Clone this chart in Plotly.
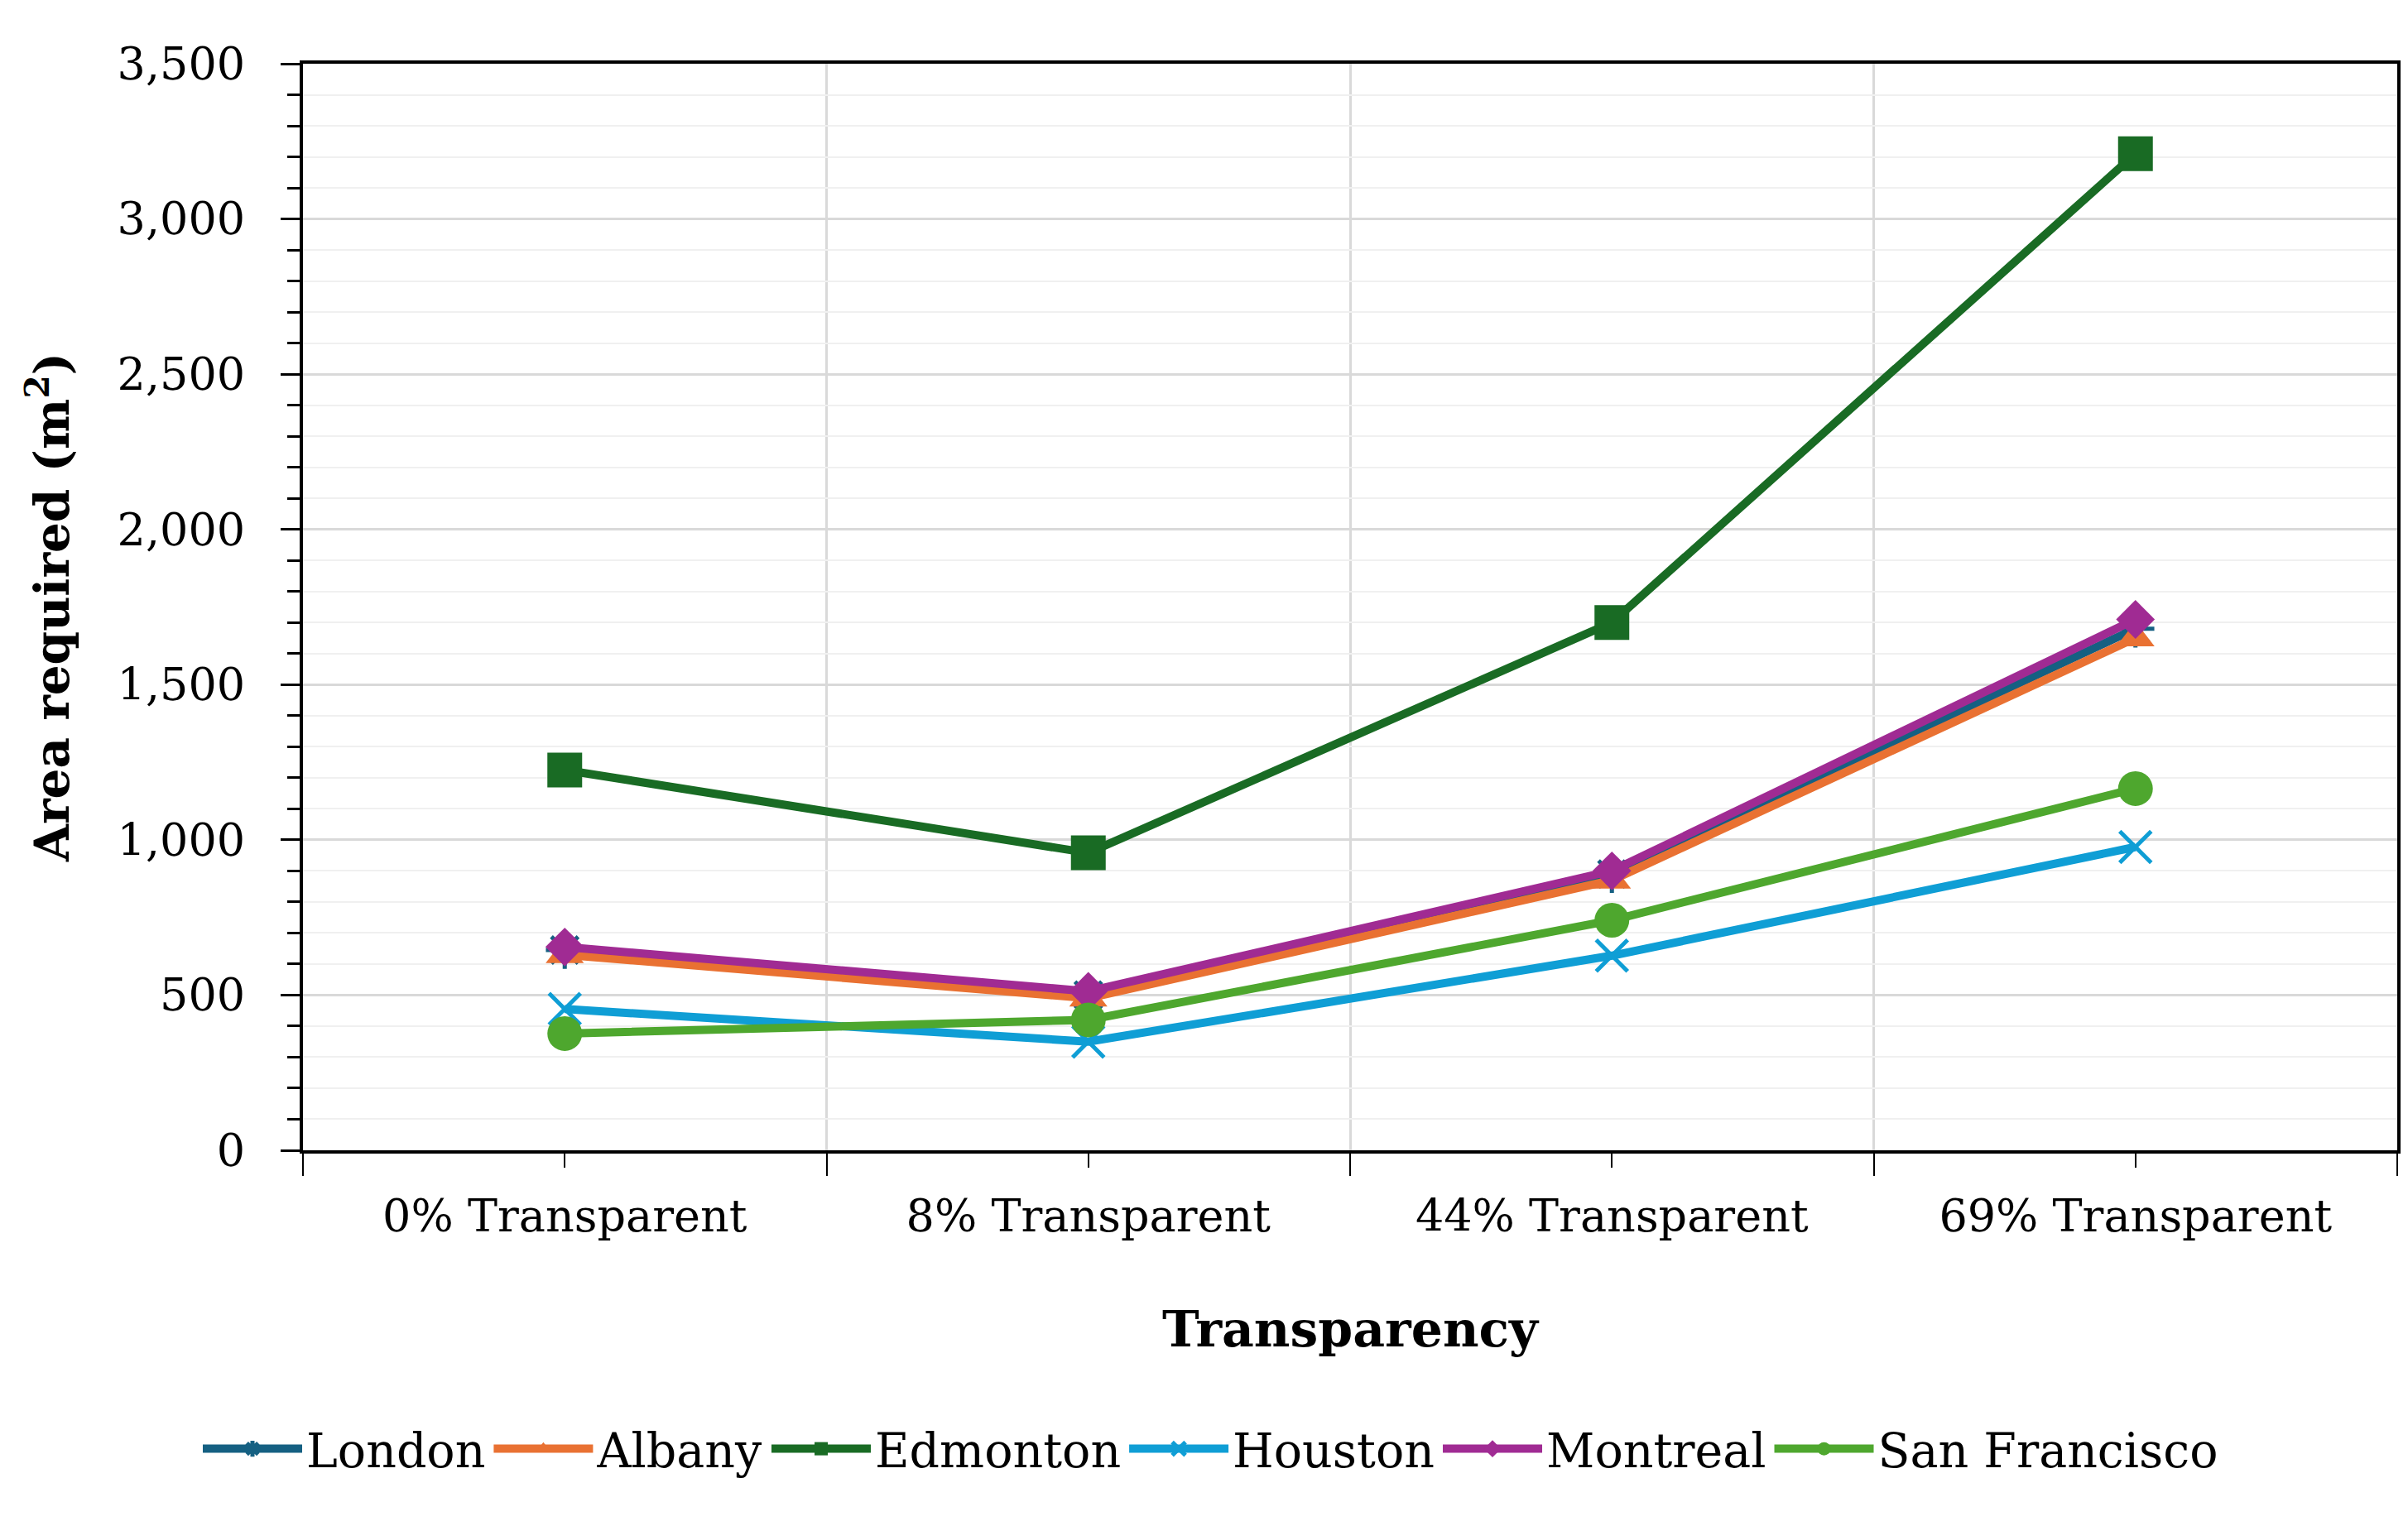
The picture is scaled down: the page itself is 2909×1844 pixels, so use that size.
import plotly.graph_objects as go

categories = ["0% Transparent", "8% Transparent", "44% Transparent", "69% Transparent"]
london = [645, 500, 890, 1680]
albany = [630, 490, 870, 1650]
edmonton = [1225, 958, 1700, 3210]
houston = [455, 350, 627, 977]
montreal = [655, 512, 900, 1710]
san_francisco = [376, 420, 741, 1165]

y_ticks = [0, 500, 1000, 1500, 2000, 2500, 3000, 3500]
y_ticktext = ["0", "500", "1,000", "1,500", "2,000", "2,500", "3,000", "3,500"]

series = [
    ("London", london, "#156082", "asterisk-open", 38),
    ("Albany", albany, "#E97132", "triangle-up", 40),
    ("Edmonton", edmonton, "#196B24", "square", 42),
    ("Houston", houston, "#0F9ED5", "x-thin-open", 38),
    ("Montreal", montreal, "#A02B93", "diamond", 36),
    ("San Francisco", san_francisco, "#4EA72E", "circle", 42),
]

FONT = "DejaVu Serif"
xpos = list(range(len(categories)))

fig = go.Figure()
for name, vals, color, sym, sz in series:
    fig.add_trace(go.Scatter(
        x=xpos, y=vals, name=name, mode="lines+markers",
        line=dict(color=color, width=10),
        marker=dict(symbol=sym, size=sz, color=color,
                    line=dict(color=color, width=5 if "open" in sym else 0)),
    ))

fig.update_layout(
    width=2909, height=1844,
    margin=dict(l=358, r=21, t=69, b=462, autoexpand=False),
    paper_bgcolor="white", plot_bgcolor="white",
    font=dict(family=FONT, size=54, color="black"),
    showlegend=True,
    legend=dict(orientation="h", x=0.4334, xanchor="center",
                y=-0.275, yanchor="middle",
                font=dict(family=FONT, size=57), itemwidth=120, tracegroupgap=0,
                itemsizing="trace"),
    xaxis=dict(
        range=[-0.5, 3.5], tickmode="array", tickvals=xpos, ticktext=categories,
        ticks="outside", ticklen=17, tickwidth=2, tickcolor="black",
        showgrid=False, zeroline=False, tickangle=0,
        showline=True, linecolor="black", linewidth=4, mirror=True,
        ticklabelstandoff=12,
        tickfont=dict(family=FONT, size=54),
        minor=dict(tick0=-0.5, dtick=1, ticks="outside", ticklen=27, tickwidth=2,
                   tickcolor="black", showgrid=True, gridcolor="#D9D9D9", gridwidth=3),
        title=dict(text="<b>Transparency</b>", font=dict(family=FONT, size=60), standoff=86),
    ),
    yaxis=dict(
        range=[0, 3500], tickmode="array", tickvals=y_ticks, ticktext=y_ticktext,
        ticks="outside", ticklen=23, tickwidth=3, tickcolor="black",
        showgrid=True, gridcolor="#D9D9D9", gridwidth=3, zeroline=False,
        showline=True, linecolor="black", linewidth=4, mirror=True,
        ticklabelstandoff=32,
        tickfont=dict(family=FONT, size=54),
        minor=dict(dtick=100, ticks="outside", ticklen=15, tickwidth=3, tickcolor="black",
                   showgrid=True, gridcolor="#F0F0F0", gridwidth=2),
        title=dict(text="<b>Area required (m<sup>2</sup>)</b>", font=dict(family=FONT, size=58), standoff=40),
    ),
    yaxis2=dict(
        range=[0, 3500], overlaying="y", anchor="x", side="left",
        tickmode="array", tickvals=y_ticks, ticks="inside", ticklen=22, tickwidth=3,
        tickcolor="black", showticklabels=False, showgrid=False, zeroline=False, showline=False,
    ),
    xaxis2=dict(
        range=[-0.5, 3.5], overlaying="x", anchor="y", side="bottom",
        tickmode="array", tickvals=[-0.5, 0.5, 1.5, 2.5, 3.5], ticks="inside", ticklen=22, tickwidth=2,
        tickcolor="black", showticklabels=False, showgrid=False, zeroline=False, showline=False,
    ),
)

fig.write_html("out.html")
